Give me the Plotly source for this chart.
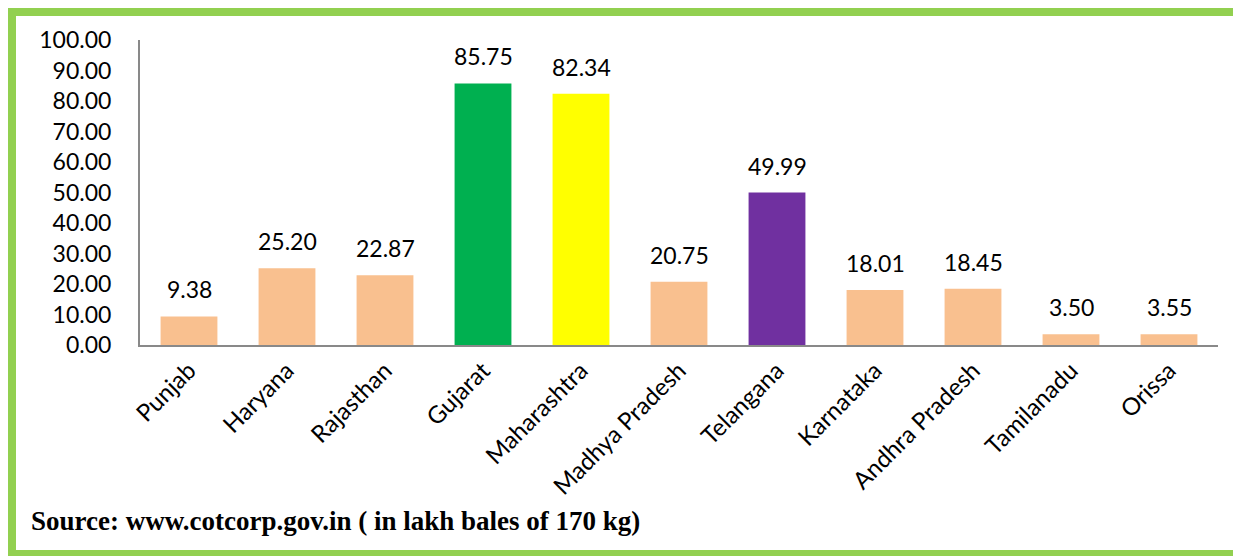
import plotly.graph_objects as go

states = ["Punjab", "Haryana", "Rajasthan", "Gujarat", "Maharashtra", "Madhya Pradesh",
          "Telangana", "Karnataka", "Andhra Pradesh", "Tamilanadu", "Orissa"]
production = [9.38, 25.20, 22.87, 85.75, 82.34, 20.75, 49.99, 18.01, 18.45, 3.50, 3.55]
bar_colors = ["#F9C08F", "#F9C08F", "#F9C08F", "#00B050", "#FFFF00", "#F9C08F",
              "#7030A0", "#F9C08F", "#F9C08F", "#F9C08F", "#F9C08F"]
y_ticks = [0, 10, 20, 30, 40, 50, 60, 70, 80, 90, 100]
source_text = "Source: www.cotcorp.gov.in ( in lakh bales of 170 kg)"

# page body has an 8px margin, so the figure starts at (8, 8) in the window
W, H = 1233, 548
L, R, T, B = 132, 23, 32, 211
pw, ph = W - L - R, H - T - B

def px(x):
    return (x - L) / pw

def py(y):
    return (H - B - y) / ph

FONT = "Lato, Open Sans, sans-serif"

fig = go.Figure()
fig.add_trace(go.Bar(x=states, y=production, marker=dict(color=bar_colors, line=dict(width=0)),
                     hoverinfo="x+y"))

for s, v in zip(states, production):
    fig.add_annotation(x=s, y=v, text=f"{v:.2f}", showarrow=False, yanchor="bottom",
                       yshift=11, font=dict(family=FONT, size=23, color="#000"))

fig.add_annotation(xref="paper", yref="paper", x=px(21), y=py(513), xanchor="left", yanchor="middle",
                   text=f"<b>{source_text}</b>", showarrow=False,
                   font=dict(family="Liberation Serif, serif", size=27, color="#000"))

border = "#92D050"
fig.add_shape(type="line", xref="paper", yref="paper", x0=px(0), x1=px(W + 5), y0=py(4), y1=py(4),
              line=dict(color=border, width=8))
fig.add_shape(type="line", xref="paper", yref="paper", x0=px(4), x1=px(4), y0=py(0), y1=py(H + 5),
              line=dict(color=border, width=8))
fig.add_shape(type="line", xref="paper", yref="paper", x0=px(0), x1=px(W + 5), y0=py(545), y1=py(545),
              line=dict(color=border, width=6))

fig.update_layout(
    width=W, height=H, margin=dict(l=L, r=R, t=T, b=B),
    plot_bgcolor="white", paper_bgcolor="white", showlegend=False, bargap=0.42,
    font=dict(family=FONT, size=23, color="#000"),
)
fig.update_xaxes(showline=True, linecolor="#898989", linewidth=2, ticks="", tickangle=-45,
                 tickfont=dict(size=24), showgrid=False)
fig.update_yaxes(range=[0, 100], tickvals=y_ticks, tickformat=".2f", showline=True,
                 linecolor="#898989", linewidth=2, ticks="", showgrid=False, zeroline=False,
                 tickfont=dict(size=23), ticklabelstandoff=22)

fig.write_html("out.html")
